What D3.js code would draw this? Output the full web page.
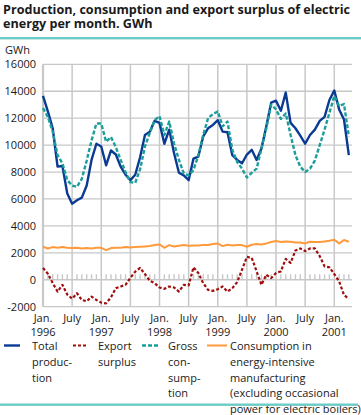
<!DOCTYPE html>
<html><head><meta charset="utf-8">
<script src="https://cdn.jsdelivr.net/npm/d3@7"></script>
<style>
body{margin:0;background:#fff}
svg{display:block}
text{font-family:"Open Sans",sans-serif;fill:#1a1a1a}
</style>
</head><body>
<svg id="c" width="361" height="415"></svg>
<script>
// Monthly values, Jan. 1996 – Apr. 2001 (GWh)
const production = [13650,12500,11250,8400,8450,6400,5650,5900,6100,7000,8900,10100,
  9900,8500,9600,9300,8400,7800,7400,7800,9100,10750,11000,11800,
  11650,10100,11150,9400,7950,7750,7400,9000,9150,10650,11250,11500,
  11850,11000,10950,9250,8900,8650,9300,9650,8900,9750,11400,13150,
  13300,12550,13900,11650,11250,10700,10100,10750,11150,11800,12100,13350,
  14050,12650,11900,9250];
const grossConsumption = [12750,12100,11000,9250,8650,7400,7000,6900,7500,8850,10350,11600,
  11600,10250,10600,9850,8900,8000,7250,7200,8200,9900,10900,11850,
  12150,10750,11750,10100,8900,7900,7750,8150,9250,10750,12000,12300,
  12500,11400,11750,9650,8750,8250,7600,7950,8250,9750,11250,13000,
  12650,11950,12350,10750,9250,8400,8000,8250,8850,10000,11150,12400,
  13650,12900,13050,10650];
const exportSurplus = [875,450,-250,-875,-375,-1100,-1400,-1000,-1500,-1600,-1250,-1500,
  -1700,-1750,-1300,-625,-500,-375,150,600,875,425,-75,-250,
  -575,-675,-500,-575,-875,-375,-425,925,500,-250,-750,-825,
  -700,-500,-875,-625,-175,750,1700,1625,625,-375,375,125,
  500,625,1550,1250,2175,2325,2125,2325,2325,1750,1000,925,
  425,-125,-1125,-1425];
const energyIntensive = [2450,2325,2425,2375,2425,2375,2350,2375,2325,2350,2325,2375,
  2375,2200,2350,2375,2375,2425,2400,2425,2450,2475,2500,2575,
  2625,2375,2575,2475,2525,2575,2525,2550,2550,2575,2575,2650,
  2700,2500,2600,2550,2575,2575,2450,2600,2650,2625,2700,2800,
  2875,2800,2850,2825,2775,2775,2700,2825,2800,2800,2850,2900,
  2975,2700,2950,2825];
const yTicks = [-2000,0,2000,4000,6000,8000,10000,12000,14000,16000];
const xTickMonths = [0,6,12,18,24,30,36,42,48,54,60];
const xTickLabels = ["Jan.","July","Jan.","July","Jan.","July","Jan.","July","Jan.","July","Jan."];
const xYearLabels = ["1996","","1997","","1998","","1999","","2000","","2001"];
const titleLines = ["Production, consumption and export surplus of electric","energy per month. GWh"];
const legendItems = [
  {name:"total", lines:["Total","produc-","tion"]},
  {name:"export", lines:["Export","surplus"]},
  {name:"gross", lines:["Gross","con-","sump-","tion"]},
  {name:"energy", lines:["Consumption in","energy-intensive","manufacturing","(excluding occasional","power for electric boilers)"]}
];

const styles = {
  total:{color:"#0b3a92", width:2.4, dash:null},
  export:{color:"#a00d0d", width:2.2, dash:"3,2"},
  gross:{color:"#1a9e9a", width:2.4, dash:"4,2"},
  energy:{color:"#ff9a3c", width:2, dash:null}
};

const svg = d3.select("#c");
const x = d3.scaleLinear().domain([0,63.65]).range([43,352]);
const y = d3.scaleLinear().domain([-2000,16000]).range([306.7,64.3]);

// title
svg.selectAll("text.title").data(titleLines).enter().append("text")
  .attr("x",3).attr("y",(d,i)=>14+i*14)
  .style("font-size","12.6px").style("font-weight","bold").text(d=>d);
svg.append("rect").attr("x",0).attr("y",37).attr("width",361).attr("height",2.4).attr("fill","#6ccbc6");

svg.append("text").attr("x",5).attr("y",53.5).style("font-size","11px").text("GWh");

// grid
const g = svg.append("g");
g.selectAll("line.h").data(yTicks).enter().append("line")
  .attr("x1",x(0)).attr("x2",x(63.65)).attr("y1",d=>y(d)).attr("y2",d=>y(d))
  .attr("stroke","#c8c8c8").attr("stroke-width",1.3);
g.selectAll("line.v").data(xTickMonths).enter().append("line")
  .attr("x1",d=>x(d)).attr("x2",d=>x(d)).attr("y1",y(16000)).attr("y2",y(-2000))
  .attr("stroke","#c8c8c8").attr("stroke-width",d=>d===0?2.2:1.5);
// monthly ticks on zero line
const minor = d3.range(1,64).filter(m=>m%6!==0);
g.selectAll("line.m").data(minor).enter().append("line")
  .attr("x1",d=>x(d)).attr("x2",d=>x(d)).attr("y1",y(0)-5.5).attr("y2",y(0))
  .attr("stroke","#c8c8c8").attr("stroke-width",1.4);

// y labels
svg.selectAll("text.yl").data(yTicks).enter().append("text")
  .attr("x",36).attr("y",d=>y(d)).attr("dy","0.36em").attr("text-anchor","end")
  .style("font-size","11px").text(d=>d);

// x labels
svg.selectAll("text.xl").data(xTickMonths).enter().append("text")
  .attr("x",d=>x(d)).attr("y",321.5).attr("text-anchor","middle")
  .style("font-size","11px").text((d,i)=>xTickLabels[i]);
svg.selectAll("text.xy").data(xTickMonths).enter().append("text")
  .attr("x",d=>x(d)).attr("y",336).attr("text-anchor","middle")
  .style("font-size","11px").text((d,i)=>xYearLabels[i]);

// lines
const line = d3.line().x((d,i)=>x(i)).y(d=>y(d));
const series = [["total",production],["export",exportSurplus],["gross",grossConsumption],["energy",energyIntensive]];
series.forEach(([k,vals])=>{
  const s = styles[k];
  svg.append("path").datum(vals).attr("d",line).attr("fill","none")
    .attr("stroke",s.color).attr("stroke-width",s.width)
    .attr("stroke-dasharray",s.dash).attr("stroke-linejoin","round");
});

// legend
const legPos = {total:[4,20,32], export:[73,87,98], gross:[142,158,168], energy:[207,227,230]};
legendItems.forEach(it=>{
  const s = styles[it.name], p = legPos[it.name];
  svg.append("line").attr("x1",p[0]).attr("x2",p[1]).attr("y1",345.5).attr("y2",345.5)
    .attr("stroke",s.color).attr("stroke-width",s.width).attr("stroke-dasharray",s.dash);
  svg.selectAll(null).data(it.lines).enter().append("text")
    .attr("x",p[2]).attr("y",(d,i)=>350+i*15.75).style("font-size","11px").text(d=>d);
});
svg.append("rect").attr("x",0).attr("y",403.5).attr("width",358).attr("height",2.4).attr("fill","#6ccbc6");
</script>
</body></html>
